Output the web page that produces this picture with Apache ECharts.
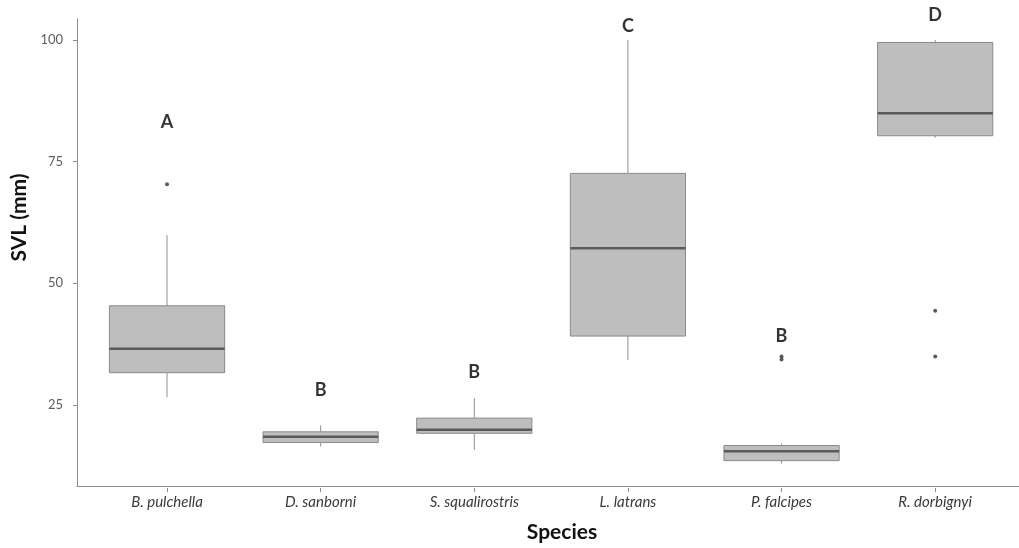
<!DOCTYPE html>
<html>
<head>
<meta charset="utf-8">
<script src="https://cdn.jsdelivr.net/npm/echarts@6/dist/echarts.min.js"></script>
<style>
html,body{margin:0;padding:0;background:#fff;}
#chart{width:1019px;height:548px;}
</style>
</head>
<body>
<div id="chart"></div>
<script>
const categories = ['B. pulchella', 'D. sanborni', 'S. squalirostris', 'L. latrans', 'P. falcipes', 'R. dorbignyi'];
const whiskerLow  = [26.9, 16.8, 16.1, 34.5, 13.3, 80.0];
const q1          = [31.9, 17.6, 19.5, 39.4, 13.9, 80.4];
const median      = [36.8, 18.8, 20.2, 57.4, 15.8, 85.0];
const q3          = [45.6, 19.8, 22.6, 72.7, 17.0, 99.5];
const whiskerHigh = [60.1, 21.1, 26.7, 100.0, 17.4, 100.0];
const outlierCat  = [0, 4, 4, 5, 5];
const outlierVal  = [70.5, 34.6, 35.2, 44.6, 35.2];
const letters     = ['A', 'B', 'B', 'C', 'B', 'D'];
const letterPos   = [83.2, 28.4, 32.1, 102.9, 39.4, 105.1];
const yTicks      = [25, 50, 75, 100];
const yMin = 8.3, yMax = 104.3;

const FONT = 'Lato';
const chart = echarts.init(document.getElementById('chart'));

const boxData = categories.map((c, i) => [i, whiskerLow[i], q1[i], median[i], q3[i], whiskerHigh[i]]);
const outData = outlierCat.map((c, i) => [c, outlierVal[i]]);
const letterData = letters.map((l, i) => ({ value: [i, letterPos[i]], label: { formatter: l } }));

function renderBox(params, api) {
  const i = api.value(0);
  const band = api.size([1, 0])[0];
  const half = band * 0.375;
  const pLo = api.coord([i, api.value(1)]);
  const pQ1 = api.coord([i, api.value(2)]);
  const pMed = api.coord([i, api.value(3)]);
  const pQ3 = api.coord([i, api.value(4)]);
  const pHi = api.coord([i, api.value(5)]);
  const x = pMed[0];
  const wStyle = { stroke: '#8f8f8f', lineWidth: 1 };
  return {
    type: 'group',
    children: [
      { type: 'line', shape: { x1: x, y1: pHi[1], x2: x, y2: pQ3[1] }, style: wStyle },
      { type: 'line', shape: { x1: x, y1: pQ1[1], x2: x, y2: pLo[1] }, style: wStyle },
      { type: 'rect', shape: { x: x - half, y: pQ3[1], width: 2 * half, height: pQ1[1] - pQ3[1] },
        style: { fill: '#bebebe', stroke: '#8a8a8a', lineWidth: 1 } },
      { type: 'line', shape: { x1: x - half, y1: pMed[1], x2: x + half, y2: pMed[1] },
        style: { stroke: '#5a5a5a', lineWidth: 2.5 } }
    ]
  };
}

chart.setOption({
  animation: false,
  backgroundColor: '#ffffff',
  textStyle: { fontFamily: FONT },
  grid: [
    { left: 77, right: 0, top: 19, bottom: 60 },
    { left: 90.2, right: 7, top: 19, bottom: 60 }
  ],
  xAxis: [
    {
      gridIndex: 0, type: 'value', min: 0, max: 1,
      axisLine: { show: true, lineStyle: { color: '#8c8c8c', width: 1 } },
      axisTick: { show: false }, axisLabel: { show: false }, splitLine: { show: false },
      name: 'Species', nameLocation: 'middle', nameGap: 36,
      nameTextStyle: { fontFamily: FONT, fontSize: 21, fontWeight: 'bold', color: '#111111', padding: [0, 0, 0, 28] }
    },
    {
      gridIndex: 1, type: 'category', data: categories, boundaryGap: true,
      axisLine: { show: false },
      axisTick: { show: true, alignWithLabel: true, length: 4, lineStyle: { color: '#8c8c8c' } },
      axisLabel: { fontFamily: FONT, fontSize: 15, fontStyle: 'italic', color: '#3a3a3a', margin: 7 },
      splitLine: { show: false }
    }
  ],
  yAxis: [
    {
      gridIndex: 0, type: 'value', min: yMin, max: yMax,
      axisLine: { show: true, lineStyle: { color: '#8c8c8c', width: 1 } },
      axisTick: { show: true, length: 4, customValues: yTicks, lineStyle: { color: '#8c8c8c' } },
      axisLabel: { customValues: yTicks, fontFamily: FONT, fontSize: 13, color: '#5e5e5e', margin: 14 },
      splitLine: { show: false },
      name: 'SVL (mm)', nameLocation: 'middle', nameGap: 46, nameRotate: 90,
      nameTextStyle: { fontFamily: FONT, fontSize: 21, fontWeight: 'bold', color: '#111111', padding: [0, 0, 0, 70] }
    },
    {
      gridIndex: 1, type: 'value', min: yMin, max: yMax, show: false, splitLine: { show: false }
    }
  ],
  series: [
    {
      type: 'custom', xAxisIndex: 1, yAxisIndex: 1,
      renderItem: renderBox,
      encode: { x: 0, y: [1, 2, 3, 4, 5] },
      data: boxData, clip: false, z: 2
    },
    {
      type: 'scatter', xAxisIndex: 1, yAxisIndex: 1,
      data: outData, symbol: 'circle', symbolSize: 4,
      itemStyle: { color: '#333333' }, z: 3, clip: false
    },
    {
      type: 'scatter', xAxisIndex: 1, yAxisIndex: 1,
      data: letterData, symbolSize: 0, clip: false, z: 4,
      label: { show: true, position: 'inside', fontFamily: FONT, fontSize: 18, fontWeight: 'bold', color: '#000000' }
    }
  ]
});
</script>
</body>
</html>
